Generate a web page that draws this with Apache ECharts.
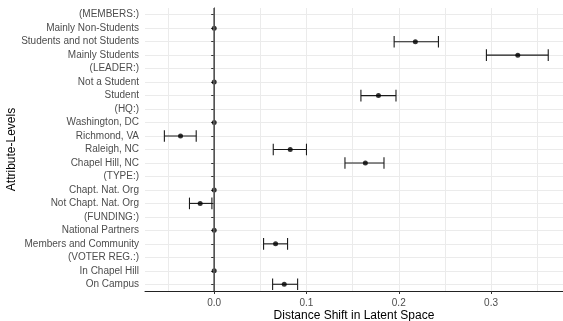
<!DOCTYPE html>
<html>
<head>
<meta charset="utf-8">
<script src="https://cdn.jsdelivr.net/npm/echarts@6/dist/echarts.min.js"></script>
<style>
  html, body { margin: 0; padding: 0; background: #fff; }
  #chart { width: 563px; height: 321px; }
</style>
</head>
<body>
<div id="chart"></div>
<script>
const categories = [
  "(MEMBERS:)", "Mainly Non-Students", "Students and not Students", "Mainly Students",
  "(LEADER:)", "Not a Student", "Student",
  "(HQ:)", "Washington, DC", "Richmond, VA", "Raleigh, NC", "Chapel Hill, NC",
  "(TYPE:)", "Chapt. Nat. Org", "Not Chapt. Nat. Org",
  "(FUNDING:)", "National Partners", "Members and Community",
  "(VOTER REG.:)", "In Chapel Hill", "On Campus"
];
// point estimate, lower and upper interval bounds (null = no mark)
const estimate = [
  null, 0, 0.218, 0.329,
  null, 0, 0.178,
  null, 0, -0.0365, 0.0824, 0.1638,
  null, 0, -0.0152,
  null, 0, 0.0665,
  null, 0, 0.0759
];
const lower = [
  null, null, 0.195, 0.295,
  null, null, 0.159,
  null, null, -0.054, 0.064, 0.1417,
  null, null, -0.0268,
  null, null, 0.0535,
  null, null, 0.0633
];
const upper = [
  null, null, 0.243, 0.362,
  null, null, 0.197,
  null, null, -0.0195, 0.100, 0.184,
  null, null, -0.0025,
  null, null, 0.0795,
  null, null, 0.0904
];
const xMin = -0.075, xMax = 0.378;
const gridMin = -0.05, gridMax = 0.35;

const font = "'Liberation Sans', Arial, sans-serif";
const W = 563, left = 145, right = 0;
const plotW = W - left - right;
const g2Left = left + (gridMin - xMin) / (xMax - xMin) * plotW;
const g2Right = right + (xMax - gridMax) / (xMax - xMin) * plotW;

const points = [];
const bars = [];
categories.forEach((c, i) => {
  if (estimate[i] != null) points.push([estimate[i], i]);
  if (lower[i] != null) bars.push([lower[i], upper[i], i]);
});

const chart = echarts.init(document.getElementById("chart"));
chart.setOption({
  animation: false,
  grid: [
    { left: left, right: right, top: 8, bottom: 30, outerBoundsMode: "none", containLabel: false },
    { left: g2Left, right: g2Right, top: 8, bottom: 30, outerBoundsMode: "none", containLabel: false }
  ],
  xAxis: [
    {
      type: "value", gridIndex: 0, min: xMin, max: xMax,
      name: "Distance Shift in Latent Space",
      nameLocation: "middle", nameGap: 19, nameMoveOverlap: false,
      nameTextStyle: { color: "#000", fontSize: 12, fontFamily: font },
      axisLine: { show: true, lineStyle: { color: "#222", width: 1 } },
      axisTick: { show: true, length: 3, lineStyle: { color: "#333" } },
      axisLabel: {
        color: "#4d4d4d", fontSize: 10, fontFamily: font, margin: 7,
        showMinLabel: false, showMaxLabel: false,
        formatter: (v) => v.toFixed(1)
      },
      splitLine: { show: false }
    },
    {
      type: "value", gridIndex: 1, min: gridMin, max: gridMax, interval: 0.05,
      axisLine: { show: false }, axisTick: { show: false }, axisLabel: { show: false },
      splitLine: { show: true, lineStyle: { color: "#ebebeb", width: 1 } }
    }
  ],
  yAxis: [
    {
      type: "category", gridIndex: 0, data: categories, inverse: true,
      name: "Attribute-Levels",
      nameLocation: "middle", nameGap: 127, nameRotate: 90, nameMoveOverlap: false,
      nameTextStyle: { color: "#000", fontSize: 12, fontFamily: font },
      axisLine: { show: true, lineStyle: { color: "#222", width: 1 } },
      axisTick: { show: true, alignWithLabel: true, length: 3, lineStyle: { color: "#333" } },
      axisLabel: { color: "#4d4d4d", fontSize: 10, fontFamily: font, margin: 6, interval: 0 },
      splitLine: { show: true, alignWithLabel: true, interval: 0, lineStyle: { color: "#ebebeb", width: 1 } }
    },
    {
      type: "value", gridIndex: 1, show: false
    }
  ],
  series: [
    {
      type: "custom",
      xAxisIndex: 0, yAxisIndex: 0,
      encode: { x: [0, 1], y: 2 },
      data: bars,
      z: 3,
      renderItem: (params, api) => {
        const a = api.coord([api.value(0), api.value(2)]);
        const b = api.coord([api.value(1), api.value(2)]);
        const h = api.size([0, 1])[1] * 0.43;
        const style = { stroke: "#1a1a1a", lineWidth: 1.1 };
        return {
          type: "group",
          children: [
            { type: "line", shape: { x1: a[0], y1: a[1], x2: b[0], y2: b[1] }, style: style },
            { type: "line", shape: { x1: a[0], y1: a[1] - h, x2: a[0], y2: a[1] + h }, style: style },
            { type: "line", shape: { x1: b[0], y1: b[1] - h, x2: b[0], y2: b[1] + h }, style: style }
          ]
        };
      }
    },
    {
      type: "scatter",
      xAxisIndex: 0, yAxisIndex: 0,
      data: points,
      symbol: "circle",
      symbolSize: 5,
      itemStyle: { color: "#000" },
      z: 4,
      markLine: {
        silent: true,
        symbol: "none",
        label: { show: false },
        lineStyle: { color: "#666", width: 1.5, type: "solid" },
        data: [{ xAxis: 0 }]
      }
    }
  ]
});
</script>
</body>
</html>
